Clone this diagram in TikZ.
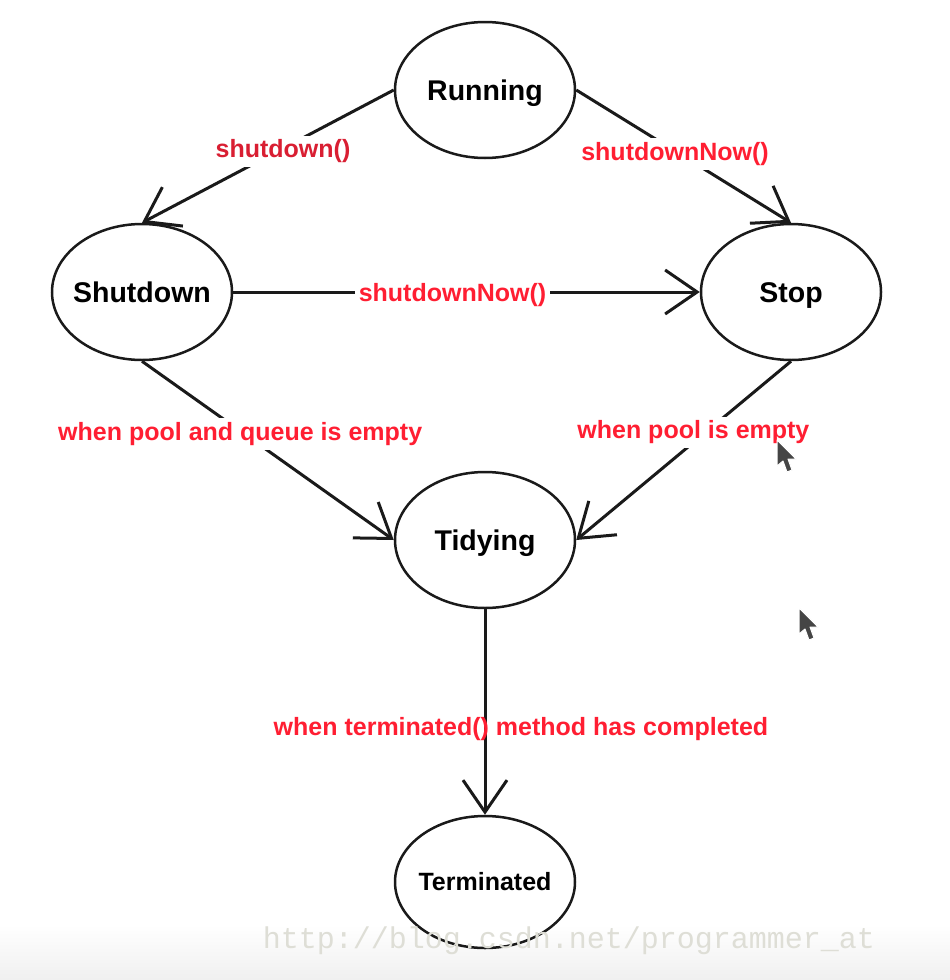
\documentclass[tikz,border=0pt]{standalone}
\usepackage{fontspec}
\setmainfont{Liberation Sans}
\setmonofont{Liberation Mono}
\usetikzlibrary{arrows.meta,shapes.geometric}
\definecolor{labred}{HTML}{FF1E32}
\definecolor{labdark}{HTML}{D91E32}
\definecolor{edgeblack}{HTML}{1A1A1A}
\definecolor{cursorgray}{HTML}{454545}
\definecolor{wmgray}{HTML}{DEDED6}
\newcommand{\zerow}[1]{\makebox[0pt]{#1}}
\begin{document}
\begin{tikzpicture}[x=1pt,y=-1pt,
  state/.style={ellipse, draw=edgeblack, line width=2.5pt, fill=white,
    minimum width=180pt, minimum height=136pt, inner sep=0pt,
    text height=20.4pt, text depth=0pt,
    font=\bfseries\fontsize{28.5}{30}\selectfont},
  conn/.style={draw=edgeblack, line width=3pt,
    -{Straight Barb[length=32pt,width=44pt,line width=3pt]}},
  lbl/.style={fill=white, text=labred, inner sep=4pt, yshift=-3pt,
    font=\bfseries\fontsize{25}{27}\selectfont},
  cursorshape/.style={fill=cursorgray, draw=white, line width=1pt, line join=round}]
\useasboundingbox (0,0) rectangle (950,980);
\fill[white] (0,0) rectangle (950,980);
\shade[top color=white, bottom color=black!6] (0,925) rectangle (950,980);

\node[state] (run) at (485,90) {\zerow{Running}};
\node[state] (shut) at (142,292) {\zerow{Shutdown}};
\node[state] (stop) at (791,292) {\zerow{Stop}};
\node[state] (tidy) at (485,540) {\zerow{Tidying}};
\node[state, minimum height=132pt, text height=17.9pt, font=\bfseries\fontsize{25}{27}\selectfont] (term) at (485,882) {\zerow{Terminated}};

\draw[conn] (run.west) -- node[lbl, text=labdark, pos=0.44] (l1) {shutdown()} (shut.north);
\draw[conn] (run.east) -- node[lbl, pos=0.46] (l2) {shutdownNow()} (stop.north);
\draw[conn] (shut.east) -- node[lbl, pos=0.47] (l3) {shutdownNow()} (stop.west);
\draw[conn] (shut.south) -- node[lbl, pos=0.39] (l4) {when pool and queue is empty} (tidy.west);
\draw[conn] (stop.south) -- node[lbl, pos=0.38, xshift=-16pt] (l5) {when pool is empty} (tidy.east);
\draw[conn] (tidy.south) -- node[lbl, pos=0.57, xshift=36pt, fill=none] (l6) {when terminated() method has completed} (term.north);

\node[text=wmgray, font=\ttfamily\fontsize{30}{32}\selectfont, inner sep=0pt] (wm) at (569,941) {http://blog.csdn.net/programmer\_at};

\begin{scope}[shift={(777,440)}]
  \draw[cursorshape] (0,0) -- (0,26) -- (6,21) -- (10,32) -- (15,30) -- (11,19) -- (19,19) -- cycle;
\end{scope}
\begin{scope}[shift={(799,608)}]
  \draw[cursorshape] (0,0) -- (0,26) -- (6,21) -- (10,32) -- (15,30) -- (11,19) -- (19,19) -- cycle;
\end{scope}
\end{tikzpicture}
\end{document}
